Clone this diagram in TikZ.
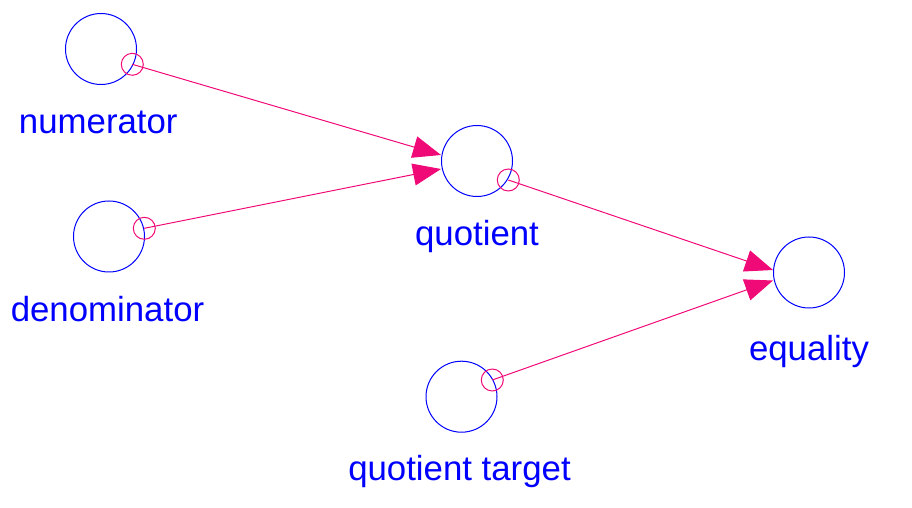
\documentclass[tikz,border=0pt]{standalone}
\usepackage{fontspec}
\setmainfont{Liberation Sans}
\usetikzlibrary{arrows.meta}
\definecolor{varblue}{RGB}{0,0,255}
\definecolor{linkpink}{RGB}{240,10,120}

\begin{document}
\begin{tikzpicture}[x=0.5pt, y=-0.5pt,
    var/.style={draw=varblue, circle, line width=0.5pt, minimum size=35.5pt, inner sep=0pt},
    port/.style={draw=linkpink, circle, line width=0.5pt, minimum size=11pt, inner sep=0pt},
    varname/.style={anchor=base, text=varblue, inner sep=0pt, font=\fontsize{17.4}{20}\selectfont},
    link/.style={draw=linkpink, line width=0.5pt, -{Triangle[length=14pt, width=11pt]}}]
    \useasboundingbox (0,0) rectangle (912,508);

    \node[var] (numerator) at (101,49) {};
    \node[var] (denominator) at (109,236.5) {};
    \node[var] (quotient) at (477,161) {};
    \node[var] (equality) at (809,272.5) {};
    \node[var] (quotient target) at (461.5,396.7) {};

    \node[port] (numerator port) at (132.3,64.3) {};
    \node[port] (denominator port) at (144.3,228.3) {};
    \node[port] (quotient port) at (508.3,180) {};
    \node[port] (quotient target port) at (492.3,380) {};

    \node[varname] (numerator label) at (98.3,134) {numerator};
    \node[varname] (denominator label) at (107.5,321.7) {denominator};
    \node[varname] (quotient label) at (477,245.7) {quotient};
    \node[varname] (equality label) at (809,360) {equality};
    \node[varname] (quotient target label) at (459.5,480.7) {quotient target};

    \draw[link] (numerator port.center) -- ([yshift=3pt]quotient.west);
    \draw[link] (denominator port.center) -- ([yshift=-4pt]quotient.west);
    \draw[link] (quotient port.center) -- ([yshift=1.25pt]equality.west);
    \draw[link] (quotient target port.center) -- ([yshift=-4pt]equality.west);
\end{tikzpicture}
\end{document}
